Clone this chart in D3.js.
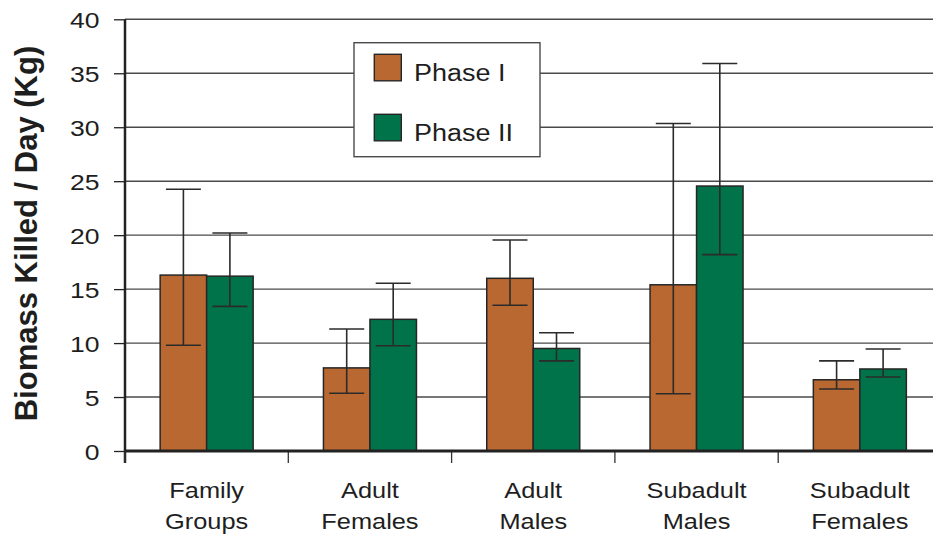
<!DOCTYPE html>
<html>
<head>
<meta charset="utf-8">
<script src="https://cdn.jsdelivr.net/npm/d3@7/dist/d3.min.js"></script>
<style>
  html, body { margin: 0; padding: 0; background: #fff; }
  svg { display: block; }
  text { font-family: "Liberation Sans", Arial, Helvetica, sans-serif; fill: #1e1e1e; }
</style>
</head>
<body>
<svg id="chart" width="933" height="537"></svg>
<script>
// Biomass killed per day by group, Phase I vs Phase II, with error bars
const categories = [
  ["Family", "Groups"],
  ["Adult", "Females"],
  ["Adult", "Males"],
  ["Subadult", "Males"],
  ["Subadult", "Females"]
];
const seriesNames = ["Phase I", "Phase II"];
const phase1 = [16.3, 7.7, 16.0, 15.4, 6.6];
const phase1High = [24.25, 11.3, 19.55, 30.35, 8.35];
const phase1Low = [9.8, 5.35, 13.5, 5.3, 5.75];
const phase2 = [16.2, 12.2, 9.5, 24.55, 7.6];
const phase2High = [20.2, 15.55, 10.95, 35.9, 9.45];
const phase2Low = [13.4, 9.75, 8.35, 18.2, 6.85];
const yTicks = [0, 5, 10, 15, 20, 25, 30, 35, 40];

const colors = ["#BA6831", "#00734A"];
const svg = d3.select("#chart");
const stretch = 1.18;

const x0 = 125, x1 = 941.5, yBase = 451, yTop = 19.3;
const keys = categories.map((c, i) => i);
const x = d3.scaleBand().domain(keys).range([x0, x1]).padding(0);
const y = d3.scaleLinear().domain([0, 40]).range([yBase, yTop]);
const groupW = 93;
const inner = d3.scaleBand().domain([0, 1]).range([0, groupW]).padding(0);

const rows = [];
keys.forEach(i => {
  rows.push({ cat: i, s: 0, v: phase1[i], hi: phase1High[i], lo: phase1Low[i] });
  rows.push({ cat: i, s: 1, v: phase2[i], hi: phase2High[i], lo: phase2Low[i] });
});
const barX = d => x(d.cat) + x.bandwidth() / 2 - groupW / 2 + inner(d.s);

// horizontal gridlines
svg.append("g").selectAll("line").data(yTicks.filter(t => t > 0)).join("line")
  .attr("x1", x0).attr("x2", x1)
  .attr("y1", d => y(d)).attr("y2", d => y(d))
  .attr("stroke", "#4a4a4a").attr("stroke-width", 1.4);

// bars
svg.append("g").selectAll("rect").data(rows).join("rect")
  .attr("x", barX)
  .attr("y", d => y(d.v))
  .attr("width", inner.bandwidth())
  .attr("height", d => y(0) - y(d.v))
  .attr("fill", d => colors[d.s])
  .attr("stroke", "#262626").attr("stroke-width", 1.5);

// error bars
const capW = 35;
const eb = svg.append("g").attr("stroke", "#2b2b2b").attr("stroke-width", 1.6);
rows.forEach(d => {
  const cx = barX(d) + inner.bandwidth() / 2;
  eb.append("line").attr("x1", cx).attr("x2", cx).attr("y1", y(d.hi)).attr("y2", y(d.lo));
  eb.append("line").attr("x1", cx - capW / 2).attr("x2", cx + capW / 2).attr("y1", y(d.hi)).attr("y2", y(d.hi));
  eb.append("line").attr("x1", cx - capW / 2).attr("x2", cx + capW / 2).attr("y1", y(d.lo)).attr("y2", y(d.lo));
});

// y axis
const yAxis = svg.append("g").attr("transform", `translate(${x0},0)`)
  .call(d3.axisLeft(y).tickValues(yTicks).tickSize(11).tickFormat(""));
yAxis.select(".domain").remove();
yAxis.selectAll(".tick line").attr("stroke", "#222").attr("stroke-width", 1.3);
svg.append("line").attr("x1", x0).attr("x2", x0).attr("y1", yTop).attr("y2", yBase + 12)
  .attr("stroke", "#222").attr("stroke-width", 2.5);

// y tick labels
svg.append("g").selectAll("text").data(yTicks).join("text")
  .attr("transform", d => `translate(99.5,${y(d) + 9}) scale(${stretch},1)`)
  .attr("text-anchor", "end")
  .style("font-size", "22.5px")
  .text(d => d);

// x axis
const xAxis = svg.append("g").attr("transform", `translate(0,${yBase})`)
  .call(d3.axisBottom(x).tickSize(0).tickFormat(""));
xAxis.select(".domain").remove();
svg.append("g").selectAll("line").data(keys).join("line")
  .attr("x1", d => x(d)).attr("x2", d => x(d))
  .attr("y1", yBase).attr("y2", yBase + 12)
  .attr("stroke", "#333").attr("stroke-width", 1.3);
svg.append("line").attr("x1", x0).attr("x2", x1).attr("y1", yBase).attr("y2", yBase)
  .attr("stroke", "#222").attr("stroke-width", 3);

// category labels
const lab = svg.append("g").selectAll("g").data(keys).join("g");
lab.each(function (i) {
  const cx = x(i) + x.bandwidth() / 2;
  categories[i].forEach((line, k) => {
    d3.select(this).append("text")
      .attr("transform", `translate(${cx},${497.7 + k * 31.3}) scale(${stretch},1)`)
      .attr("text-anchor", "middle")
      .style("font-size", "21.5px")
      .text(line);
  });
});

// y axis title
svg.append("text")
  .attr("transform", "translate(37,233.5) rotate(-90)")
  .attr("text-anchor", "middle")
  .style("font-size", "31px").style("font-weight", "bold")
  .text("Biomass Killed / Day (Kg)");

// legend
const lg = svg.append("g");
lg.append("rect").attr("x", 354).attr("y", 42.7).attr("width", 186).attr("height", 114)
  .attr("fill", "#fff").attr("stroke", "#4a4a4a").attr("stroke-width", 1.4);
seriesNames.forEach((name, k) => {
  const top = 54.3 + k * 60;
  lg.append("rect").attr("x", 374.3).attr("y", top).attr("width", 27).attr("height", 26.5)
    .attr("fill", colors[k]).attr("stroke", "#262626").attr("stroke-width", 1.4);
  lg.append("text")
    .attr("transform", `translate(414,${top + 26.4}) scale(1.1,1)`)
    .style("font-size", "24.5px")
    .text(name);
});
</script>
</body>
</html>
